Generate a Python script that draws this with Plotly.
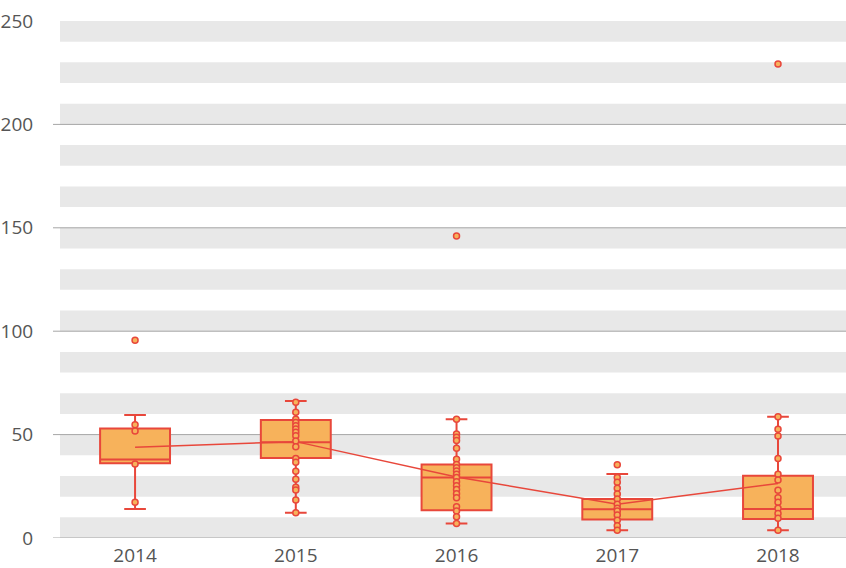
import plotly.graph_objects as go

years = ["2014", "2015", "2016", "2017", "2018"]

q1 = [36.1, 38.7, 13.4, 9.0, 9.2]
median = [38.0, 46.3, 29.2, 13.9, 14.0]
q3 = [53.0, 57.1, 35.6, 18.9, 30.1]
lower_whisker = [14.0, 12.2, 7.0, 3.8, 3.7]
upper_whisker = [59.5, 66.2, 57.4, 30.9, 58.6]
means = [43.9, 46.6, 29.5, 16.3, 26.4]

points_2014 = [95.6, 54.8, 51.7, 35.8, 17.3]
points_2015 = [65.6, 60.8, 57.4, 55.9, 54.3, 52.7, 51.1, 49.5, 46.9, 44.1,
               38.5, 36.6, 32.3, 28.4, 24.5, 23.2, 18.4, 12.2]
points_2016 = [146.0, 57.4, 50.3, 48.7, 47.1, 43.4, 38.1, 35.6, 34.0, 32.4,
               30.8, 29.2, 27.2, 25.3, 23.4, 21.4, 19.5, 15.1, 13.1, 10.3, 7.0]
points_2017 = [35.4, 29.2, 26.9, 24.0, 21.3, 18.9, 16.3, 14.4, 13.1, 11.1,
               8.6, 5.9, 3.8]
points_2018 = [229.2, 58.6, 52.6, 49.3, 38.5, 30.8, 28.0, 23.1, 19.5, 17.3,
               14.4, 11.9, 9.5, 3.7]
all_points = [points_2014, points_2015, points_2016, points_2017, points_2018]

y_ticks = [0, 50, 100, 150, 200, 250]

RED = "#E8473B"
ORANGE = "#F7B25B"
BAND = "#E8E8E8"
TEXT = "#555555"
GRID = "#A6A6A6"

xs = list(range(len(years)))

fig = go.Figure()

fig.add_trace(go.Box(
    x=xs, q1=q1, median=median, q3=q3,
    lowerfence=lower_whisker, upperfence=upper_whisker,
    boxpoints=False, width=0.435, whiskerwidth=0.31,
    fillcolor=ORANGE, line=dict(color=RED, width=2),
    showlegend=False, hoverinfo="skip",
))

fig.add_trace(go.Scatter(
    x=xs, y=means, mode="lines",
    line=dict(color=RED, width=1.5), showlegend=False,
))

px, py = [], []
for i, pts in enumerate(all_points):
    px += [i] * len(pts)
    py += pts
fig.add_trace(go.Scatter(
    x=px, y=py, mode="markers",
    marker=dict(symbol="circle", size=6, color=ORANGE,
                line=dict(color=RED, width=1.5)),
    showlegend=False,
))

FIG_W, FIG_H = 846, 568
ML, MT, MB, MR = 60, 21, 30, 0
PLOT_W = FIG_W - ML - MR

shapes = []
# alternating background bands
for v in range(0, 250, 20):
    shapes.append(dict(type="rect", xref="paper", yref="y", x0=0, x1=1,
                       y0=v, y1=v + 10, fillcolor=BAND, line=dict(width=0),
                       layer="below"))
# gridlines (with a short tick stub to the left), none at the top edge
for v in y_ticks[:-1]:
    shapes.append(dict(type="line", xref="paper", yref="y",
                       x0=-7 / PLOT_W, x1=1, y0=v, y1=v,
                       line=dict(color=GRID, width=1), layer="below"))
fig.update_layout(shapes=shapes)

fig.update_layout(
    width=FIG_W, height=FIG_H,
    margin=dict(l=ML, r=MR, t=MT, b=MB),
    paper_bgcolor="white", plot_bgcolor="white",
    font=dict(family="Open Sans, sans-serif", size=19, color=TEXT),
    xaxis=dict(
        range=[-0.467, 4.423], tickvals=xs, ticktext=years,
        showgrid=False, zeroline=False, showline=False,
        ticks="", ticklabelstandoff=4, automargin=False,
    ),
    yaxis=dict(
        range=[0, 250], tickvals=y_ticks, showgrid=False,
        zeroline=False, showline=False,
        ticks="outside", ticklen=7, tickcolor="rgba(0,0,0,0)", tickwidth=1,
        ticklabelstandoff=15, automargin=False,
    ),
)

post = (
    "document.body.style.margin='0';"
    "document.body.style.overflow='hidden';"
    "var gd=document.getElementById('{plot_id}');"
    "Plotly.relayout(gd,{width:%d,height:%d});" % (FIG_W, FIG_H)
)

fig.write_html("out.html", post_script=post,
               config={"displayModeBar": False})
